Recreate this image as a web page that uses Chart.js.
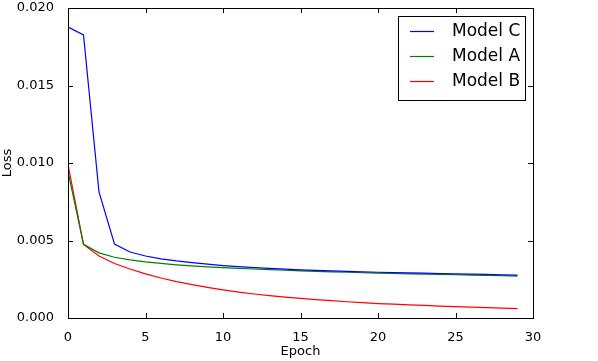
<!DOCTYPE html>
<html>
<head>
<meta charset="utf-8">
<script src="https://cdn.jsdelivr.net/npm/chart.js@4/dist/chart.umd.min.js"></script>
<style>
  html, body { margin: 0; padding: 0; background: #fff; }
  #wrap { width: 598px; height: 361px; }
</style>
</head>
<body>
<div id="wrap"><canvas id="chart" width="598" height="361"></canvas></div>
<script>
// epochs 0..29
const epochs = [0,1,2,3,4,5,6,7,8,9,10,11,12,13,14,15,16,17,18,19,20,21,22,23,24,25,26,27,28,29]

const modelC = [0.01877,0.01826,0.00813,0.00477,0.00426,0.00400,0.00382,0.00368,0.00357,0.00347,
                0.00338,0.00331,0.00325,0.00320,0.00315,0.00310,0.00307,0.00304,0.00301,0.00298,
                0.00295,0.00293,0.00291,0.00289,0.00287,0.00285,0.00283,0.00281,0.00279,0.00277]
const modelA = [0.00945,0.00475,0.00420,0.00392,0.00375,0.00362,0.00352,0.00343,0.00336,0.00330,
                0.00325,0.00320,0.00316,0.00312,0.00308,0.00304,0.00301,0.00298,0.00295,0.00292,
                0.00289,0.00287,0.00285,0.00283,0.00281,0.00279,0.00277,0.00275,0.00273,0.00270]
const modelB = [0.00990,0.00475,0.00400,0.00352,0.00316,0.00285,0.00258,0.00235,0.00215,0.00197,
                0.00181,0.00167,0.00155,0.00144,0.00135,0.00127,0.00119,0.00112,0.00105,0.00099,
                0.00093,0.00089,0.00085,0.00081,0.00077,0.00074,0.00070,0.00067,0.00064,0.00061]

const seriesNames = ["Model C", "Model A", "Model B"]
const seriesColors = ["#0000ff", "#008000", "#ff0000"]
const xTicks = [0, 5, 10, 15, 20, 25, 30]
const yTicks = [0, 0.005, 0.010, 0.015, 0.020]

const FONT = "'DejaVu Sans', sans-serif"

const toPoints = (values) => values.map((v, i) => ({ x: epochs[i], y: v }))

// matplotlib-style inward ticks on all four sides
const inwardTicks = {
    id: "inwardTicks",
    afterDatasetsDraw(chart){
        const { ctx, chartArea: a, scales } = chart
        const len = 5
        ctx.save()
        ctx.strokeStyle = "#000"
        ctx.lineWidth = 1
        ctx.beginPath()
        xTicks.forEach(v => {
            const px = Math.round(scales.x.getPixelForValue(v)) + 0.5
            ctx.moveTo(px, a.bottom); ctx.lineTo(px, a.bottom - len)
            ctx.moveTo(px, a.top); ctx.lineTo(px, a.top + len)
        })
        yTicks.forEach(v => {
            const py = Math.round(scales.y.getPixelForValue(v)) + 0.5
            ctx.moveTo(a.left, py); ctx.lineTo(a.left + len, py)
            ctx.moveTo(a.right, py); ctx.lineTo(a.right - len, py)
        })
        ctx.stroke()
        ctx.strokeRect(Math.round(a.left) + 0.5, Math.round(a.top) + 0.5,
                       Math.round(a.right - a.left), Math.round(a.bottom - a.top))
        ctx.restore()
    }
}

// legend box in the upper right corner
const boxLegend = {
    id: "boxLegend",
    afterDraw(chart){
        const { ctx, chartArea: a } = chart
        const w = 127, h = 84
        const x0 = a.right - 8 - w, y0 = a.top + 8
        ctx.save()
        ctx.fillStyle = "#fff"
        ctx.fillRect(x0, y0, w, h)
        ctx.strokeStyle = "#000"
        ctx.lineWidth = 1
        ctx.strokeRect(x0 + 0.5, y0 + 0.5, w, h)
        ctx.font = "17px " + FONT
        ctx.textBaseline = "middle"
        chart.data.datasets.forEach((ds, i) => {
            const cy = y0 + 15.5 + i * 25
            ctx.strokeStyle = ds.borderColor
            ctx.lineWidth = 1.2
            ctx.beginPath()
            ctx.moveTo(x0 + 12, cy); ctx.lineTo(x0 + 36, cy)
            ctx.stroke()
            ctx.fillStyle = "#000"
            ctx.fillText(ds.label, x0 + 54, cy)
        })
        ctx.restore()
    }
}

const datasets = [modelC, modelA, modelB].map((values, i) => ({
    label: seriesNames[i],
    data: toPoints(values),
    borderColor: seriesColors[i],
    backgroundColor: seriesColors[i],
    borderWidth: 1.2,
    pointRadius: 0,
    tension: 0,
    fill: false
}))

new Chart(document.getElementById("chart").getContext("2d"), {
    type: "line",
    data: { datasets },
    options: {
        responsive: false,
        animation: false,
        layout: { padding: { top: 0, right: 65, left: 0, bottom: 0 } },
        plugins: { legend: { display: false }, tooltip: { enabled: false } },
        scales: {
            x: {
                type: "linear",
                min: 0, max: 30,
                afterBuildTicks(axis){ axis.ticks = xTicks.map(v => ({ value: v })) },
                afterFit(axis){ axis.height = 43 },
                grid: { display: false },
                border: { display: false },
                ticks: { color: "#000", padding: 4, maxRotation: 0, font: { family: FONT, size: 13 } },
                title: { display: true, text: "Epoch", color: "#000", padding: { top: 0, bottom: 2 },
                         font: { family: FONT, size: 13 } }
            },
            y: {
                type: "linear",
                min: 0, max: 0.02,
                afterBuildTicks(axis){ axis.ticks = yTicks.map(v => ({ value: v })) },
                afterFit(axis){ axis.width = 68; axis.paddingTop = 8 },
                grid: { display: false },
                border: { display: false },
                ticks: { color: "#000", padding: 6, font: { family: FONT, size: 13 },
                         callback: (v) => v.toFixed(3) },
                title: { display: true, text: "Loss", color: "#000", padding: { top: 0, bottom: 2 },
                         font: { family: FONT, size: 13 } }
            }
        }
    },
    plugins: [inwardTicks, boxLegend]
})
</script>
</body>
</html>
